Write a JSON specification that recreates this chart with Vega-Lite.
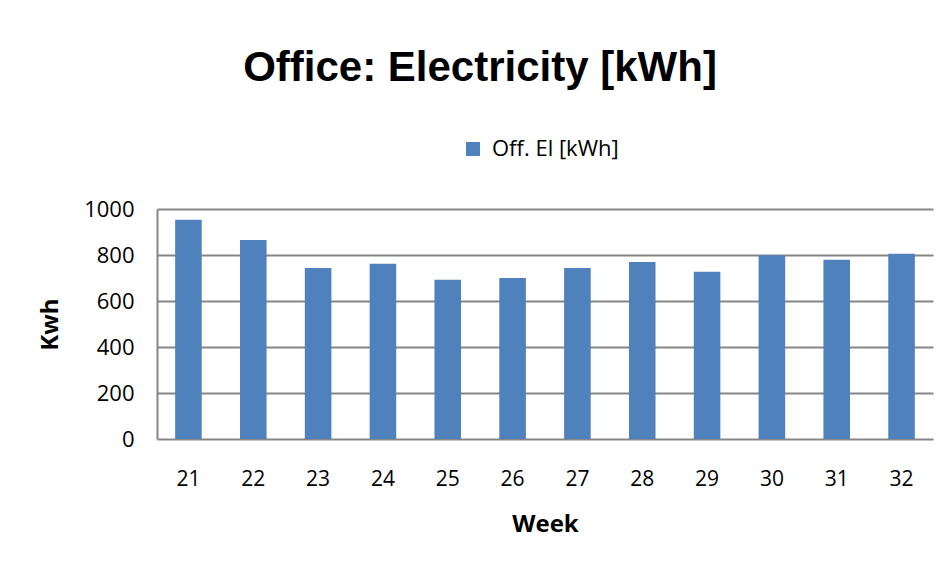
{
  "$schema": "https://vega.github.io/schema/vega-lite/v6.json",
  "width": 776,
  "height": 230,
  "autosize": {"type": "none"},
  "padding": {"left": 157, "top": 209, "right": 6, "bottom": 126},
  "background": "white",
  "title": {
    "text": "Office: Electricity [kWh]",
    "font": "Liberation Sans",
    "fontSize": 42,
    "fontWeight": "bold",
    "color": "black",
    "anchor": "middle",
    "frame": "group",
    "dx": -65,
    "offset": 48
  },
  "data": {
    "values": [
      {"week": 21, "kwh": 953, "series": "Off. El [kWh]"},
      {"week": 22, "kwh": 865, "series": "Off. El [kWh]"},
      {"week": 23, "kwh": 744, "series": "Off. El [kWh]"},
      {"week": 24, "kwh": 762, "series": "Off. El [kWh]"},
      {"week": 25, "kwh": 692, "series": "Off. El [kWh]"},
      {"week": 26, "kwh": 700, "series": "Off. El [kWh]"},
      {"week": 27, "kwh": 744, "series": "Off. El [kWh]"},
      {"week": 28, "kwh": 770, "series": "Off. El [kWh]"},
      {"week": 29, "kwh": 727, "series": "Off. El [kWh]"},
      {"week": 30, "kwh": 799, "series": "Off. El [kWh]"},
      {"week": 31, "kwh": 779, "series": "Off. El [kWh]"},
      {"week": 32, "kwh": 805, "series": "Off. El [kWh]"}
    ]
  },
  "mark": {"type": "bar"},
  "encoding": {
    "x": {
      "field": "week",
      "type": "ordinal",
      "title": "Week",
      "scale": {"paddingInner": 0.59, "paddingOuter": 0.28},
      "axis": {
        "labelAngle": 0,
        "ticks": false,
        "domain": false,
        "grid": false,
        "labelFont": "Open Sans",
        "labelFontSize": 21,
        "labelColor": "black",
        "labelPadding": 29,
        "titleFont": "Open Sans",
        "titleFontSize": 24,
        "titleFontWeight": "bold",
        "titleColor": "black",
        "titlePadding": 23
      }
    },
    "y": {
      "field": "kwh",
      "type": "quantitative",
      "title": "Kwh",
      "scale": {"domain": [0, 1000], "nice": false},
      "axis": {
        "values": [0, 200, 400, 600, 800, 1000],
        "format": "d",
        "ticks": false,
        "domain": true,
        "domainColor": "#868686",
        "domainWidth": 2,
        "grid": true,
        "gridColor": "#868686",
        "gridWidth": 2,
        "labelFont": "Open Sans",
        "labelFontSize": 22,
        "labelColor": "black",
        "labelPadding": 23,
        "titleFont": "Open Sans",
        "titleFontSize": 24,
        "titleFontWeight": "bold",
        "titleColor": "black",
        "titlePadding": 21
      }
    },
    "color": {
      "field": "series",
      "type": "nominal",
      "scale": {"range": ["#4F81BD"]},
      "legend": {
        "title": null,
        "orient": "none",
        "legendX": 305,
        "legendY": -71,
        "padding": 0,
        "symbolType": "square",
        "symbolSize": 196,
        "symbolStrokeWidth": 0,
        "symbolOpacity": 1,
        "labelFont": "Open Sans",
        "labelFontSize": 22,
        "labelColor": "black",
        "labelOffset": 8
      }
    }
  },
  "config": {
    "view": {"stroke": null}
  }
}
